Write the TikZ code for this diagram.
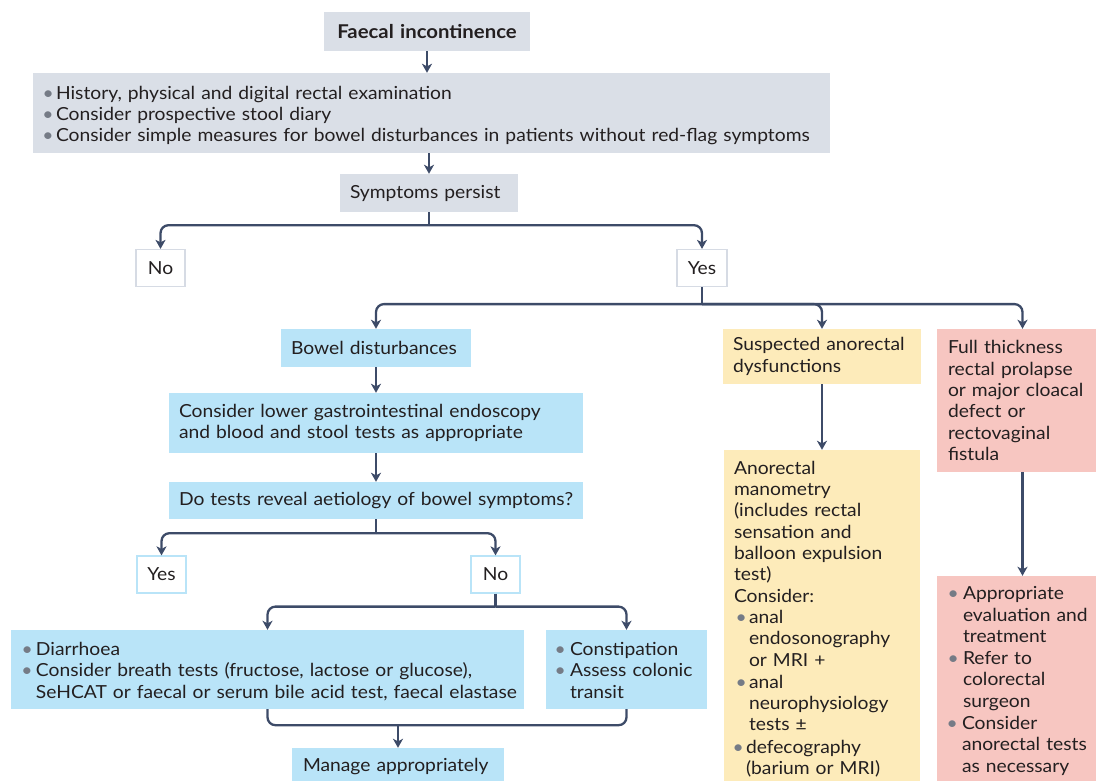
\documentclass[tikz,border=0pt]{standalone}
\usepackage{fontspec}
\setmainfont{Lato}[FakeStretch=1.07]
\usetikzlibrary{arrows.meta}
\definecolor{gboxc}{HTML}{DADFE7}
\definecolor{bboxc}{HTML}{B9E4F8}
\definecolor{yboxc}{HTML}{FDEBBA}
\definecolor{pboxc}{HTML}{F7C6C1}
\definecolor{arrc}{HTML}{3D4B68}
\definecolor{bulc}{HTML}{757B86}
\definecolor{txtc}{HTML}{231F20}
\definecolor{ynbc}{HTML}{D6DBE4}
\newcommand\fsz{\fontsize{18}{21.3}\selectfont}
\newcommand\bi[2][14pt]{\par\noindent\makebox[#1][l]{\hspace{-1.5pt}\textcolor{bulc}{\textbullet}}\begin{tabular}[t]{@{}l@{}}#2\end{tabular}}
\tikzset{
  box/.style={inner xsep=10pt, inner ysep=0pt, text=txtc, font=\fsz, align=left, anchor=center},
  gbox/.style={box, fill=gboxc},
  bbox/.style={box, fill=bboxc},
  ybox/.style={box, fill=yboxc},
  pbox/.style={box, fill=pboxc},
  ynbox/.style={inner sep=0pt, text=txtc, font=\fsz, fill=white, draw=ynbc, line width=1.2pt, minimum width=48pt, minimum height=37pt},
  ynblue/.style={ynbox, draw=bboxc},
  arr/.style={draw=arrc, line width=2.3pt, -{Stealth[length=9pt,width=10pt,inset=2.5pt]}},
  ln/.style={draw=arrc, line width=2.3pt},
  rc/.style={rounded corners=8pt}
}
\begin{document}
\begin{tikzpicture}[x=1pt,y=-1pt]
\useasboundingbox (0,0) rectangle (1096,781);
% nodes
\node[gbox, text width=186pt, minimum height=39pt, align=center, font=\fontsize{19}{22}\selectfont\bfseries] (fi) at (427,31.5) {Faecal incontinence};
\node[gbox, inner xsep=11pt, text width=775pt, minimum height=80pt] (hist) at (431.5,113) {%
\bi[12pt]{History, physical and digital rectal examination}%
\bi[12pt]{Consider prospective stool diary}%
\bi[12pt]{Consider simple measures for bowel disturbances in patients without red-flag symptoms}};
\node[gbox, text width=158pt, minimum height=38pt] (sp) at (429,193) {\mbox{Symptoms persist}};
\node[ynbox, minimum width=49pt] (no) at (160.5,268) {No};
\node[ynbox, minimum width=50pt] (yes) at (702,268) {Yes};

\node[bbox, text width=170pt, minimum height=38pt] (bd) at (376,348) {\mbox{Bowel disturbances}};
\node[bbox, text width=394pt, minimum height=60pt] (cons) at (376,423) {\mbox{Consider lower gastrointestinal endoscopy}\\\mbox{and blood and stool tests as appropriate}};
\node[bbox, text width=394pt, minimum height=37pt] (dt) at (376,500.5) {\mbox{Do tests reveal aetiology of bowel symptoms?}};
\node[ynblue, minimum width=49pt] (yes2) at (161.5,574.5) {Yes};
\node[ynblue, minimum width=49pt] (no2) at (495.5,574.5) {No};
\node[bbox, inner xsep=12pt, text width=489pt, minimum height=79pt] (diar) at (267.5,669.5) {%
\bi[13pt]{Diarrhoea}%
\bi[13pt]{Consider breath tests (fructose, lactose or glucose),\\SeHCAT or faecal or serum bile acid test, faecal elastase}};
\node[bbox, text width=141pt, minimum height=79pt] (const) at (626.5,669.5) {%
\bi{Constipation}%
\bi{Assess colonic\\transit}};
\node[bbox, inner xsep=11pt, text width=190pt, minimum height=38pt] (man) at (398,767) {\mbox{Manage appropriately}};

\node[ybox, text width=178pt, minimum height=55pt] (sus) at (822,356.5) {\mbox{Suspected anorectal}\\dysfunctions};
\node[ybox, text width=176pt, minimum height=342pt] (ano) at (822,621) {Anorectal\\manometry\\(includes rectal\\sensation and\\balloon expulsion\\test)\\Consider:%
\par\leftskip=3pt
\bi[12pt]{anal\\endosonography\\or MRI +}%
\bi[12pt]{anal\\neurophysiology\\tests ±}%
\bi[12pt]{defecography\\(barium or MRI)}};
\node[pbox, inner xsep=11pt, text width=149pt, minimum height=143pt] (full) at (1022.5,400.5) {Full thickness\\rectal prolapse\\\mbox{or major cloacal}\\defect or\\rectovaginal\\fistula};
\node[pbox, inner xsep=11pt, text width=149pt, minimum height=205pt] (app) at (1022.5,678.5) {\leftskip=1pt
\bi[14pt]{Appropriate\\evaluation and\\treatment}%
\bi[14pt]{Refer to\\colorectal\\surgeon}%
\bi[14pt]{Consider\\anorectal tests\\as necessary}};

% connectors
\draw[arr] (fi.south) -- (hist.north -| fi.south);
\draw[arr] (hist.south -| sp.north) -- (sp.north);
\draw[ln] (sp.south) -- ++(0,13) coordinate (j1);
\draw[arr, rc] (j1) -| (no.north);
\draw[arr, rc] (j1) -| (yes.north);
\draw[ln] (yes.south) -- ++(0,17) coordinate (j2);
\draw[arr, rc] (j2) -| (bd.north);
\draw[arr, rc] (j2) -| (sus.north);
\draw[arr, rc] (j2) -| (full.north);
\draw[arr] (bd.south) -- (cons.north);
\draw[arr] (cons.south) -- (dt.north);
\draw[ln] (dt.south) -- ++(0,14) coordinate (j3);
\draw[arr, rc] (j3) -| (yes2.north);
\draw[arr, rc] (j3) -| (no2.north);
\draw[ln] (no2.south) -- ++(0,13) coordinate (j4);
\draw[arr, rc] (j4) -| (diar.north);
\draw[arr, rc] (j4) -| (const.north);
\draw[ln, rc] (diar.south) -- ++(0,16) coordinate (j5) -| (const.south);
\draw[arr] (man.north |- j5) -- (man.north);
\draw[arr] (sus.south) -- (ano.north);
\draw[arr] (full.south) -- (app.north);
\end{tikzpicture}
\end{document}
